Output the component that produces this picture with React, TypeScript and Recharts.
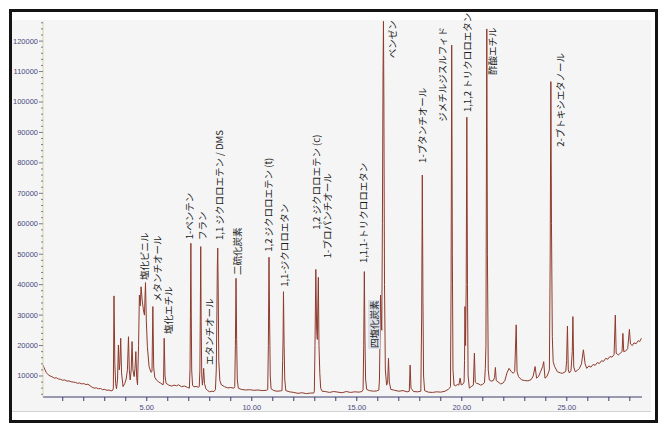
import React from 'react';
import { ComposedChart, Line, Scatter, XAxis, YAxis } from 'recharts';

// retention time (min), detector response
const baselineStart: [number, number][] = [
  [0.06, 13600], [0.1, 12900], [0.16, 12000], [0.22, 11100], [0.31, 10400], [0.4, 10000],
  [0.5, 9700], [0.6, 9300], [0.7, 9400], [0.8, 9000], [0.9, 8900], [1.0, 8600], [1.1, 8700],
  [1.2, 8300], [1.3, 8400], [1.4, 8100], [1.5, 8000], [1.6, 7900], [1.7, 7600], [1.8, 7700],
  [1.9, 7400], [2.0, 7500], [2.1, 7200], [2.2, 7300], [2.3, 6800], [2.4, 6300], [2.5, 6000],
  [2.6, 6100], [2.7, 5800], [2.8, 5900], [2.9, 5500], [3.0, 5600], [3.1, 5300], [3.2, 5400],
  [3.3, 5100], [3.38, 5300],
];

const earlyCluster: [number, number][] = [
  [3.41, 6000], [3.44, 36300], [3.48, 14000], [3.52, 7500], [3.56, 5800], [3.61, 9000],
  [3.65, 20200], [3.69, 12000], [3.72, 14000], [3.76, 22400], [3.8, 11000], [3.87, 6500],
  [3.95, 7500], [4.02, 9000], [4.08, 12000], [4.13, 22900], [4.17, 12000], [4.21, 8700],
  [4.26, 12000], [4.3, 21300], [4.34, 12000], [4.4, 9800], [4.44, 12500], [4.48, 18000],
  [4.52, 9500], [4.56, 7100], [4.61, 20000], [4.65, 36600], [4.69, 33000], [4.73, 39300],
  [4.78, 35000], [4.84, 31700], [4.89, 30000], [4.94, 40700], [4.98, 28000], [5.03, 19600],
  [5.11, 13100], [5.2, 11200], [5.25, 11500], [5.29, 32800], [5.33, 13000], [5.38, 9600],
  [5.47, 8600], [5.56, 8100], [5.67, 7600], [5.78, 7100], [5.8, 8500], [5.83, 22400],
  [5.87, 10000], [5.92, 7600], [6.05, 7000], [6.19, 6700], [6.3, 7000], [6.42, 6800],
  [6.51, 7100], [6.65, 6500], [6.8, 6700], [6.95, 6200], [7.03, 6000],
];

const midPeaks: [number, number][] = [
  [7.06, 12000], [7.08, 30000], [7.1, 53600], [7.12, 30000], [7.14, 12000], [7.18, 7000],
  [7.25, 6400], [7.35, 6600], [7.45, 6300], [7.5, 6500], [7.53, 12000], [7.55, 30000],
  [7.57, 52500], [7.59, 28000], [7.62, 10000], [7.65, 7000], [7.68, 9000], [7.71, 12500],
  [7.75, 7500], [7.82, 5800], [7.9, 5200], [8.0, 4800], [8.1, 5000], [8.2, 4900],
  [8.27, 5500], [8.31, 12000], [8.34, 30000], [8.36, 46000], [8.38, 52000], [8.4, 40000],
  [8.43, 15000], [8.48, 8500], [8.55, 7100], [8.7, 6500], [8.85, 6100], [9.0, 6200],
  [9.15, 6000], [9.19, 6500], [9.22, 20000], [9.25, 42100], [9.28, 22000], [9.31, 9000],
  [9.36, 6000], [9.5, 5600], [9.7, 5400], [9.9, 5500], [10.1, 5300], [10.3, 5400],
  [10.5, 5200], [10.7, 5300], [10.76, 5500], [10.79, 20000], [10.82, 49000], [10.85, 28000],
  [10.88, 10000], [10.92, 5800], [11.05, 5200], [11.2, 5000], [11.35, 5100], [11.44, 5200],
  [11.47, 15000], [11.49, 21800], [11.51, 37700], [11.54, 20000], [11.57, 9000], [11.62, 5200],
  [11.8, 4800], [12.0, 4600], [12.2, 4300], [12.4, 4500], [12.6, 4200], [12.8, 4400],
  [12.95, 4400],
];

const latePeaks: [number, number][] = [
  [12.98, 5000], [13.01, 20000], [13.05, 45000], [13.09, 25000], [13.12, 22000],
  [13.15, 35000], [13.17, 42400], [13.2, 20000], [13.24, 10900], [13.28, 6000], [13.35, 5000],
  [13.5, 4900], [13.7, 4600], [13.9, 4900], [14.1, 4700], [14.3, 4500], [14.5, 4900],
  [14.7, 4600], [14.9, 4800], [15.1, 4700], [15.25, 4900], [15.3, 5500], [15.33, 20000],
  [15.36, 44300], [15.39, 22000], [15.42, 9000], [15.47, 5600], [15.6, 5200], [15.8, 5000],
  [15.95, 5100], [16.05, 5400], [16.08, 9000], [16.11, 25000], [16.13, 36600], [16.16, 30000],
  [16.19, 25000], [16.22, 60000], [16.25, 110000], [16.27, 126500], [16.29, 100000],
  [16.32, 40000], [16.36, 12000], [16.42, 7000], [16.47, 8000], [16.51, 15800], [16.55, 8000],
  [16.62, 5600], [16.8, 5300], [17.0, 5000], [17.2, 5200], [17.4, 4800], [17.5, 5000],
  [17.54, 13600], [17.58, 6000], [17.7, 4900], [17.9, 4800], [18.05, 5000], [18.09, 30000],
  [18.12, 76000], [18.15, 35000], [18.18, 10000], [18.23, 5200], [18.4, 4700], [18.6, 4600],
  [18.8, 4800], [19.0, 4700], [19.2, 5000], [19.35, 5600], [19.42, 6000], [19.46, 6500],
  [19.49, 40000], [19.52, 118700], [19.55, 50000], [19.58, 12000], [19.63, 7000], [19.7, 6800],
  [19.8, 7200], [19.86, 7000], [19.92, 9300], [19.97, 7100], [20.05, 7300], [20.11, 8000],
  [20.13, 15000], [20.15, 32800], [20.18, 20000], [20.21, 40000], [20.24, 95000],
  [20.27, 40000], [20.3, 10000], [20.36, 6000], [20.45, 6500], [20.55, 7000], [20.6, 17500],
  [20.64, 8000], [20.7, 7600], [20.8, 7400], [20.9, 7000], [21.0, 7300], [21.08, 7800],
  [21.12, 12500], [21.15, 20000], [21.19, 124000], [21.22, 50000], [21.26, 12000],
  [21.31, 8700], [21.4, 8300], [21.5, 8500], [21.56, 9500], [21.6, 12800], [21.64, 8500],
  [21.72, 8100], [21.85, 7400], [21.95, 7600], [22.05, 8500], [22.15, 11000], [22.25, 12500],
  [22.35, 11500], [22.45, 10900], [22.52, 11500], [22.59, 26800], [22.63, 11500],
  [22.7, 9800], [22.85, 8700], [23.0, 8500], [23.15, 8400], [23.3, 8800], [23.4, 10000],
  [23.49, 13100], [23.56, 9300], [23.65, 9800], [23.75, 11400], [23.85, 13100],
  [23.9, 14700], [23.96, 9300], [24.05, 9800], [24.12, 11000],
];

const tailPeaks: [number, number][] = [
  [24.17, 12000], [24.21, 50000], [24.24, 106700], [24.27, 60000], [24.31, 22900],
  [24.35, 14700], [24.42, 13100], [24.55, 11400], [24.7, 11000], [24.8, 10900],
  [24.95, 11500], [24.99, 15000], [25.03, 26400], [25.07, 12000], [25.12, 11000],
  [25.2, 11800], [25.26, 18000], [25.29, 29500], [25.33, 13000], [25.4, 11400],
  [25.5, 11800], [25.6, 12500], [25.7, 14000], [25.79, 18600], [25.87, 14000],
  [25.95, 12500], [26.05, 13300], [26.15, 12900], [26.25, 13800], [26.35, 13500],
  [26.45, 14400], [26.55, 14100], [26.65, 15000], [26.75, 14800], [26.85, 15800],
  [26.95, 15500], [27.05, 16400], [27.15, 16200], [27.25, 17000], [27.31, 30000],
  [27.35, 17500], [27.45, 16900], [27.55, 17500], [27.63, 18000], [27.67, 24000],
  [27.71, 18000], [27.8, 18200], [27.9, 19000], [27.98, 25300], [28.03, 20500],
  [28.12, 20000], [28.2, 20900], [28.3, 20600], [28.4, 21600], [28.47, 21300], [28.55, 22400],
];

const peakNames = [
  '塩化ビニル', 'メタンチオール', '塩化エチル', '1-ペンテン', 'フラン', 'エタンチオール',
  '1,1 ジクロロエテン / DMS', '二硫化炭素', '1,2 ジクロロエテン (t)', '1,1-ジクロロエタン',
  '1,2 ジクロロエテン (c)', '1-プロパンチオール', '1,1,1-トリクロロエタン', '四塩化炭素',
  'ベンゼン', '1-ブタンチオール', 'ジメチルジスルフィド', '1,1,2 トリクロロエタン',
  '酢酸エチル', '2-ブトキシエタノール',
];
// where each label's lower end sits
const labelTimes = [4.85, 5.48, 6.0, 7.03, 7.62, 7.97, 8.44, 9.29, 10.79, 11.55, 13.05, 13.57,
  15.31, 15.82, 16.67, 18.1, 19.05, 20.27, 21.43, 24.68];
const labelLevels = [41500, 34300, 23800, 54900, 54700, 13600, 54700, 43200, 50800, 39300, 58000,
  48700, 47100, 19200, 114400, 80000, 93500, 96700, 108900, 85300];

const minuteTicks = [1, 2, 3, 4, 5, 6, 7, 8, 9, 10, 11, 12, 13, 14, 15, 16, 17, 18, 19, 20, 21,
  22, 23, 24, 25, 26, 27, 28];
const countTicksK = [4, 6, 8, 10, 12, 14, 16, 18, 20, 22, 24, 26, 28, 30, 32, 34, 36, 38, 40, 42,
  44, 46, 48, 50, 52, 54, 56, 58, 60, 62, 64, 66, 68, 70, 72, 74, 76, 78, 80, 82, 84, 86, 88, 90,
  92, 94, 96, 98, 100, 102, 104, 106, 108, 110, 112, 114, 116, 118, 120, 122, 124, 126];

const trace = [...baselineStart, ...earlyCluster, ...midPeaks, ...latePeaks, ...tailPeaks].map(
  ([t, v]) => ({ t, v })
);
const labels = peakNames.map((name, i) => ({ name, t: labelTimes[i], v: labelLevels[i] }));

const AXIS_BLUE = '#3c3c6e';
const TICK_FONT = "'Liberation Sans', Arial, sans-serif";

const MinuteTick = (props: any) => {
  const { x, y, payload } = props;
  const major = payload.value % 5 === 0;
  return (
    <g>
      <line x1={x} x2={x} y1={y} y2={y + 4} stroke={AXIS_BLUE} strokeWidth={1} />
      {major && (
        <text x={x} y={y + 13} textAnchor="middle" fontSize={7.5} fill="#4a4a7e" fontFamily={TICK_FONT}>
          {payload.value.toFixed(2)}
        </text>
      )}
    </g>
  );
};

const CountTick = (props: any) => {
  const { x, y, payload } = props;
  const major = payload.value % 10000 === 0;
  return (
    <g>
      <line x1={x - (major ? 4 : 2)} x2={x} y1={y} y2={y} stroke="#7a7a9a" strokeWidth={1} />
      {major && (
        <text x={x - 5} y={y + 2.5} textAnchor="end" fontSize={7.5} fill="#4a4a7e" fontFamily={TICK_FONT}>
          {payload.value}
        </text>
      )}
    </g>
  );
};

const PeakLabel = (props: any) => {
  const { cx, cy, payload } = props;
  const boxed = payload.name === '四塩化炭素';
  return (
    <g>
      {boxed && <rect x={cx - 6} y={cy - 48} width={12} height={49} fill="#dde1ea" />}
      <text
        x={cx}
        y={cy}
        transform={`rotate(-90 ${cx} ${cy})`}
        textAnchor="start"
        dominantBaseline="central"
        fontSize={9.5}
        fill="#1c1c1c"
        fontFamily="'Noto Sans CJK JP', sans-serif"
      >
        {payload.name}
      </text>
    </g>
  );
};

export default function App() {
  return (
    <div style={{ position: 'absolute', left: 0, top: 0, width: 665, height: 430, background: '#fff' }}>
      <div
        style={{
          position: 'absolute', left: 9, top: 9, width: 649, height: 414,
          border: '3px solid #141414', boxSizing: 'border-box',
        }}
      />
      <div
        style={{
          position: 'absolute', left: 12, top: 20, width: 639, height: 392,
          background: '#f5f5f5', borderBottom: '1px solid #d4d4d4', boxSizing: 'border-box',
        }}
      />
      <div style={{ position: 'absolute', left: 0, top: 0 }}>
        <ComposedChart width={665} height={430} margin={{ top: 21, right: 23, bottom: 13, left: 3 }}>
          <XAxis
            type="number"
            dataKey="t"
            domain={[0.06, 28.58]}
            ticks={minuteTicks}
            interval={0}
            height={20}
            axisLine={{ stroke: AXIS_BLUE }}
            tickLine={false}
            tickSize={0}
            tickMargin={0}
            tick={<MinuteTick />}
          />
          <YAxis
            type="number"
            dataKey="v"
            domain={[3100, 126600]}
            ticks={countTicksK.map((k) => k * 1000)}
            interval={0}
            width={40}
            axisLine={{ stroke: '#d9d5a6' }}
            tickLine={false}
            tickSize={0}
            tickMargin={0}
            tick={<CountTick />}
          />
          <Line
            data={trace}
            dataKey="v"
            type="linear"
            stroke="#8e3a2c"
            strokeWidth={1}
            dot={false}
            isAnimationActive={false}
          />
          <Scatter data={labels} dataKey="v" shape={<PeakLabel />} isAnimationActive={false} />
        </ComposedChart>
      </div>
    </div>
  );
}
